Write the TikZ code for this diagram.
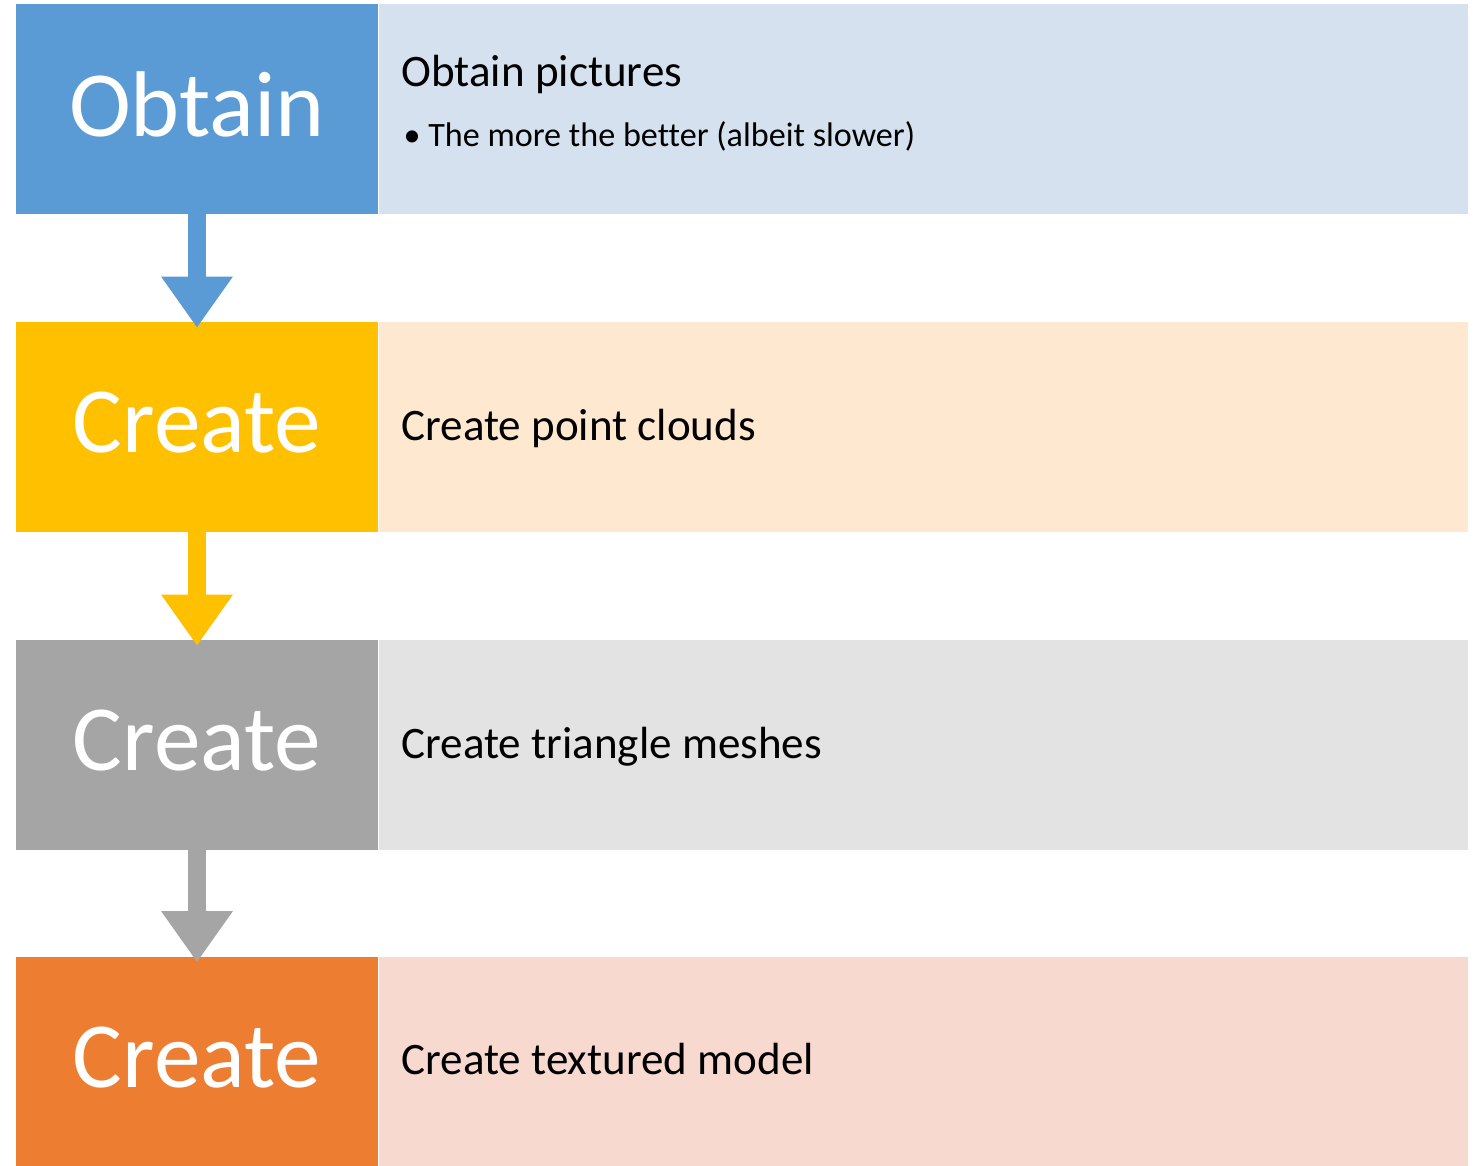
\documentclass[tikz,border=0pt]{standalone}
\usepackage{fontspec}
\setmainfont[Ligatures=NoCommon]{Carlito}
\usetikzlibrary{arrows.meta, positioning, calc}

\definecolor{obtainblue}{HTML}{5B9BD5}
\definecolor{obtainpale}{HTML}{D5E1EF}
\definecolor{cloudyellow}{HTML}{FFC000}
\definecolor{cloudpale}{HTML}{FEE8CF}
\definecolor{meshgray}{HTML}{A5A5A5}
\definecolor{meshpale}{HTML}{E3E3E3}
\definecolor{modelorange}{HTML}{ED7D31}
\definecolor{modelpale}{HTML}{F7D9D0}

\begin{document}
\begin{tikzpicture}[
    x=0.75pt, y=-0.75pt,
    node distance=0pt,
    stage/.style={rectangle, minimum width=271.5pt, minimum height=157.5pt, inner sep=0pt, text depth=7pt, text=white, font=\fontsize{70}{80}\selectfont},
    detail/.style={rectangle, minimum width=816.75pt, minimum height=157.5pt, inner sep=0pt},
    headline/.style={inner sep=0pt, anchor=base west, font=\fontsize{33.8}{40}\selectfont},
    bullet/.style={inner sep=0pt, anchor=base west, font=\fontsize{25.6}{30}\selectfont},
    flow/.style={line width=13.5pt, -{Triangle[length=38.25pt, width=51pt]}},
]
\useasboundingbox (0,0) rectangle (1473,1166);

% Left stage boxes
\node[stage, fill=obtainblue] (obtain) at (197,109) {Obtain};
\node[stage, fill=cloudyellow] (clouds) at (197,427) {Create};
\node[stage, fill=meshgray] (meshes) at (197,745) {Create};
\node[stage, fill=modelorange] (model) at (197,1061.5) {Create};

% Right detail boxes
\node[detail, fill=obtainpale, right=of obtain] (obtaininfo) {};
\node[detail, fill=cloudpale, right=of clouds] (cloudsinfo) {};
\node[detail, fill=meshpale, right=of meshes] (meshesinfo) {};
\node[detail, fill=modelpale, right=of model] (modelinfo) {};

% Texts
\node[headline] (obtainhead) at ($(obtaininfo.north west)+(23,83)$) {Obtain pictures};
\node[bullet] (obtainnote) at ($(obtaininfo.north west)+(25,143)$) {• The more the better (albeit slower)};
\node[headline] (cloudshead) at ($(cloudsinfo.north west)+(23,118.5)$) {Create point clouds};
\node[headline] (mesheshead) at ($(meshesinfo.north west)+(23,118.5)$) {Create triangle meshes};
\node[headline] (modelhead) at ($(modelinfo.north west)+(23,118)$) {Create textured model};

% Arrows
\draw[flow, obtainblue] (obtain.south) -- ([yshift=-4.5pt]clouds.north);
\draw[flow, cloudyellow] (clouds.south) -- ([yshift=-4.5pt]meshes.north);
\draw[flow, meshgray] (meshes.south) -- ([yshift=-4.5pt]model.north);

\end{tikzpicture}
\end{document}
